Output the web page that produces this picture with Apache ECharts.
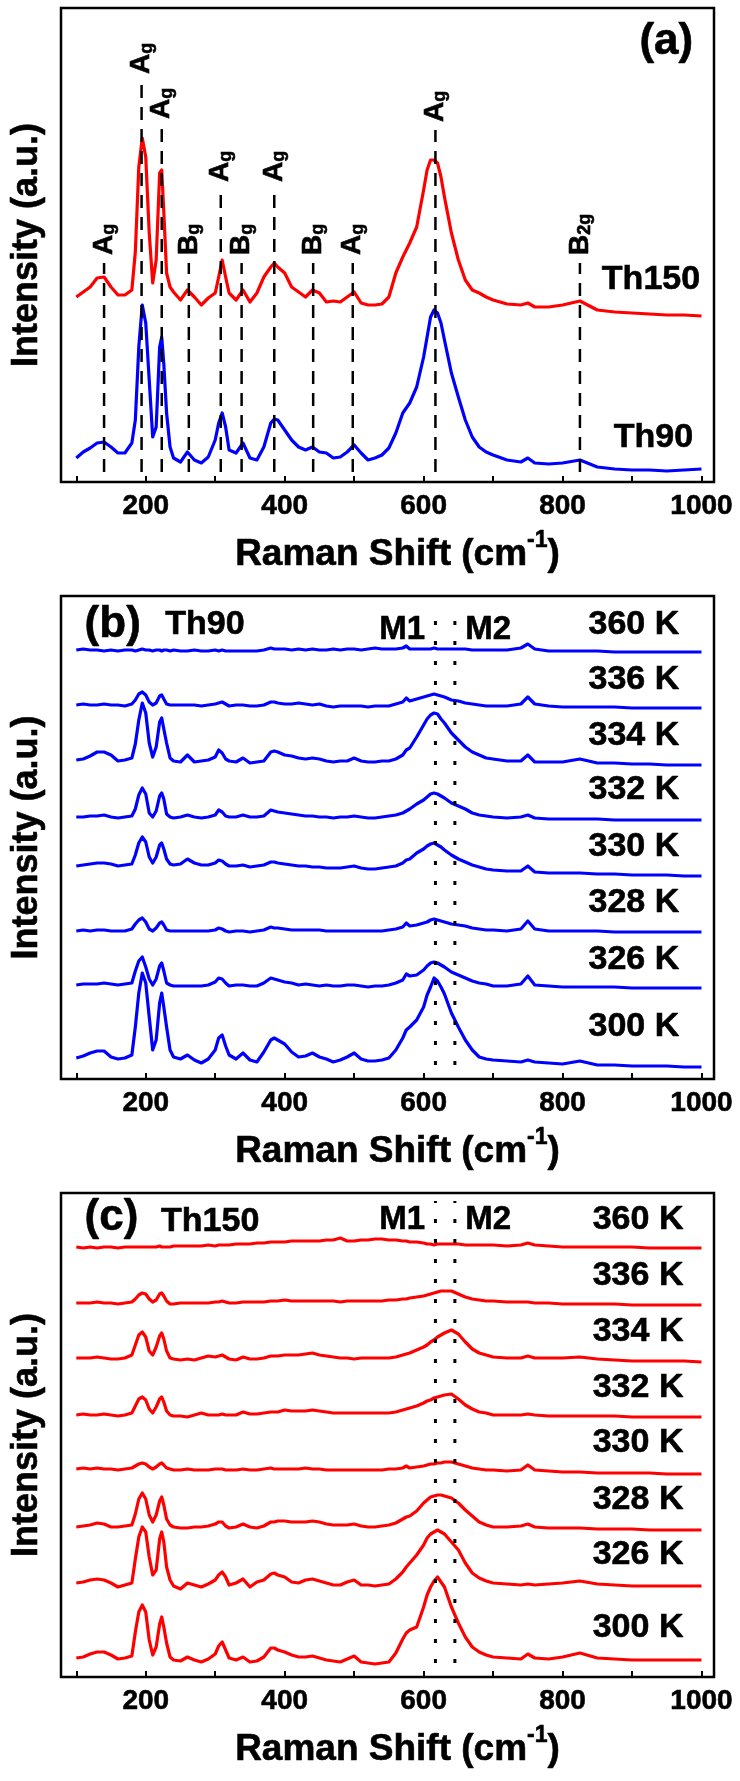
<!DOCTYPE html>
<html><head><meta charset="utf-8">
<script src="https://cdn.jsdelivr.net/npm/echarts@6/dist/echarts.min.js"></script>
<style>html,body{margin:0;padding:0;background:#fff}#c{width:740px;height:1781px}</style>
</head><body><div id="c"></div>
<script>
// Raman shift grid (cm^-1)
const shift = [100,110,120,130,140,150,160,170,180,185,
190,195,200,205,210,215,220,223,226,230,
235,240,250,260,270,280,290,300,305,310,
315,320,330,340,350,360,370,380,385,390,
400,410,420,430,440,450,460,470,480,490,
500,510,520,530,540,550,560,570,575,580,
590,600,605,610,615,620,625,630,640,650,
660,670,680,690,700,720,740,750,760,780,
800,825,850,875,900,925,950,975,1000];

// Panel (a)
const aTh90 = [24,30,34,39,40,35,29,29,39,62,
135,177,159,102,45,55,135,145,118,69,
35,24,20,30,22,19,25,42,59,69,
55,32,29,39,24,22,35,59,63,62,
52,42,35,32,35,30,29,24,25,30,
37,29,22,24,27,34,49,69,74,79,
95,125,145,165,172,169,159,142,109,85,
62,45,35,30,27,22,20,24,19,18,
19,22,15,13,12,12,11,12,13];
const aTh150 = [185,190,195,204,205,195,187,187,192,230,
315,344,325,249,199,222,309,312,270,209,
195,190,182,192,185,177,184,189,205,222,
205,189,182,192,180,189,205,215,219,215,
209,195,190,185,192,189,180,181,180,185,
190,179,177,177,178,185,209,225,232,239,
255,292,312,322,322,319,305,285,249,222,
202,192,189,185,182,178,177,179,175,175,
177,181,172,170,169,168,167,167,166];

// Panel (b) Th90 temperature series
const b360 = [429,430,429,429,428,429,428,429,429,428,
429,430,429,429,428,429,429,428,429,429,
428,429,428,428,429,428,428,429,428,429,
428,428,428,428,428,428,429,431,430,430,
430,429,430,429,430,429,429,430,429,430,
430,429,430,431,430,430,430,431,433,430,
430,430,430,430,431,430,430,430,430,430,
430,429,429,429,429,429,431,435,430,428,
428,428,428,427,427,427,427,427,427];
const b336 = [374,375,374,374,375,374,374,373,375,379,
385,387,384,377,374,376,383,384,380,375,
374,374,374,374,374,373,374,375,376,377,
375,373,374,374,373,373,374,377,377,376,
375,375,376,375,374,375,373,372,373,373,
373,373,372,373,373,373,375,377,381,378,
380,382,383,384,385,384,383,382,379,378,
376,375,374,373,373,373,375,382,375,373,
372,372,372,372,371,371,371,371,371];
const b334 = [319,320,323,327,327,324,318,319,321,335,
359,376,366,336,322,332,357,361,350,336,
321,318,317,324,317,318,319,322,329,326,
320,318,317,321,316,317,318,327,328,327,
324,323,321,320,321,320,318,317,318,318,
321,318,317,317,318,318,320,324,329,331,
342,354,360,364,366,365,360,356,346,339,
332,327,324,321,320,318,318,324,317,317,
317,320,316,316,315,315,314,314,314];
const b332 = [262,262,263,263,264,262,261,262,263,270,
284,291,285,266,262,268,283,286,280,265,
262,261,262,264,262,261,262,264,269,267,
263,262,262,264,262,262,263,269,268,267,
266,265,264,263,263,262,262,261,262,262,
263,262,261,261,262,263,264,266,268,270,
275,279,282,285,286,285,283,281,276,273,
270,266,264,263,262,261,262,264,261,260,
260,260,260,259,259,259,259,259,259];
const b330 = [213,214,215,216,216,215,213,214,215,224,
236,242,237,222,216,222,234,236,230,220,
215,214,215,220,216,214,214,216,219,218,
215,213,213,214,212,213,214,217,217,216,
215,214,213,213,212,212,211,211,211,212,
213,211,210,210,211,212,213,216,219,220,
226,230,233,235,236,234,232,229,224,220,
217,214,212,210,209,208,208,213,207,206,
206,206,205,205,204,204,204,203,203];
const b328 = [148,149,148,149,149,148,148,148,150,155,
159,161,157,150,148,151,156,157,154,149,
148,148,148,148,148,148,148,149,151,150,
148,147,148,148,147,148,149,152,151,151,
150,149,149,149,149,149,148,148,148,148,
148,148,148,148,148,149,150,152,156,153,
154,156,157,159,160,159,158,157,155,154,
153,151,150,149,149,148,150,158,150,148,
148,148,148,147,147,147,147,147,147];
const b326 = [94,95,95,95,96,95,94,95,96,108,
118,122,112,100,94,100,113,116,108,96,
94,93,93,93,93,93,94,97,101,100,
96,93,94,94,93,93,96,101,100,99,
97,96,94,95,94,93,94,93,93,94,
94,93,92,93,93,94,96,99,105,103,
104,109,113,116,117,116,114,112,107,104,
101,98,96,95,93,93,95,103,94,93,
92,92,92,92,91,91,91,91,91];
const b300 = [21,23,26,28,28,22,20,21,24,52,
86,106,96,62,29,39,76,86,72,52,
29,22,20,24,19,16,20,29,41,44,
33,24,20,26,19,17,27,39,41,39,
35,27,22,23,26,22,20,17,19,22,
26,20,18,18,19,21,29,41,49,52,
59,72,84,92,101,98,92,85,66,52,
39,29,22,20,19,18,17,19,17,16,
15,18,14,14,13,13,13,12,12];

// Panel (c) Th150 temperature series
const c360 = [430,429,430,429,430,430,429,430,430,430,
430,430,430,430,430,430,431,430,430,430,
430,431,431,431,431,431,432,431,432,432,
432,432,433,433,433,434,434,435,435,435,
435,436,436,436,436,436,437,437,439,436,
436,437,437,438,438,437,437,436,436,435,
435,434,433,433,432,433,433,433,433,433,
432,432,432,432,432,431,432,434,432,431,
430,430,430,430,430,429,429,429,429];
const c336 = [374,374,374,375,374,374,373,374,375,378,
382,384,383,378,375,377,383,384,381,376,
373,373,374,374,374,374,374,375,375,376,
375,374,374,375,375,375,375,376,376,376,
377,376,376,376,376,376,376,376,375,376,
376,376,376,376,376,377,377,378,378,379,
380,381,382,383,384,385,386,386,386,383,
380,378,377,376,376,375,375,375,374,374,
373,373,373,373,372,372,372,372,372];
const c334 = [319,319,319,320,319,318,318,319,322,332,
342,345,340,326,322,330,341,344,338,326,
319,318,317,318,317,319,321,320,321,322,
320,318,317,320,318,318,319,321,321,321,
322,322,322,323,324,322,321,320,319,319,
318,319,319,319,319,319,320,322,323,324,
327,330,332,335,337,340,342,344,347,343,
335,328,324,322,320,319,319,321,319,319,
319,320,318,317,316,316,316,316,315];
const c332 = [262,263,262,262,263,262,261,262,264,271,
278,280,277,268,264,270,278,280,275,266,
262,261,261,260,262,264,262,262,262,263,
262,262,262,265,263,263,264,265,265,265,
267,266,266,266,267,266,265,264,264,264,
264,264,264,264,264,264,265,267,268,269,
271,274,276,277,279,280,281,282,283,278,
272,268,265,264,262,262,262,263,262,261,
261,261,261,261,260,260,260,260,260];
const c330 = [208,209,208,209,208,208,207,208,209,211,
213,214,213,210,208,210,213,214,212,209,
208,207,207,208,207,207,207,208,208,208,
207,207,207,208,207,207,208,209,208,208,
208,208,208,209,208,208,207,207,207,207,
207,207,207,207,207,208,208,209,211,209,
210,211,212,213,213,214,214,215,215,213,
211,209,208,207,207,206,207,212,207,206,
205,205,204,204,204,204,203,203,203];
const c328 = [150,151,152,154,153,150,150,151,152,163,
178,184,178,162,155,162,176,180,172,158,
152,150,149,149,150,150,151,153,155,155,
151,149,150,153,150,149,151,155,155,156,
156,155,155,155,156,155,153,152,152,152,
153,151,150,150,151,152,154,158,160,161,
166,174,177,180,181,182,182,181,179,174,
167,161,155,152,150,150,151,153,150,149,
149,149,148,148,148,147,147,147,147];
const c326 = [94,95,97,98,97,94,90,92,94,118,
140,150,145,120,102,107,138,145,135,110,
97,91,88,94,92,90,93,97,102,105,
100,92,94,98,90,95,97,103,104,102,
100,95,94,97,98,96,94,92,92,95,
97,92,92,91,92,93,98,105,110,114,
122,132,139,143,145,147,145,143,135,127,
114,104,99,96,94,93,92,93,92,93,
94,96,93,92,91,91,91,91,91];
const c300 = [19,20,23,25,25,22,18,19,21,45,
65,72,65,37,22,30,53,60,50,34,
20,17,16,20,17,15,18,23,31,35,
27,19,17,20,15,16,20,29,29,27,
25,22,20,20,21,19,17,16,15,18,
21,15,14,13,14,15,24,38,44,47,
50,70,82,90,96,100,95,90,70,54,
40,30,25,22,20,19,18,23,19,18,
20,24,19,18,17,17,17,17,17];

// Annotations
const modeShift = [140,194,223,262,308,338,385,441,498,617,825];
const modeTop   = [219,400,355,219,292,219,292,219,219,352,219];
const modeName  = ['A','A','A','B','A','B','A','B','A','A','B'];
const modeSub   = ['g','g','g','g','g','g','g','g','g','g','2g'];
const mShift = [617,645];
const tempLabels = ['360 K','336 K','334 K','332 K','330 K','328 K','326 K','300 K'];
const tickValues = [100,200,300,400,500,600,700,800,900,1000];
const labelValues = [200,400,600,800,1000];

const FONT = '"Liberation Sans", Arial, Helvetica, sans-serif';
const RED = '#ff0000', BLUE = '#0000ff';
const TB = {textBorderColor:'#000', textBorderWidth:0.6};

const tops = [8, 596, 1193], heights = [474, 483, 484];
const grid = tops.map((t,i)=>({left:61, top:t, width:653, height:heights[i], show:true,
  borderColor:'#000', borderWidth:2.5, backgroundColor:'rgba(0,0,0,0)'}));

const xAxis = [0,1,2].map(i=>({type:'value', gridIndex:i, min:78, max:1018,
  axisLine:{show:false},
  axisTick:{show:true, inside:true, length:6, customValues:tickValues, lineStyle:{color:'#000', width:2}},
  axisLabel:Object.assign({show:true, customValues:labelValues, formatter:v=>String(v), fontSize:28, fontWeight:'bold', color:'#000', fontFamily:FONT, margin:10}, TB),
  splitLine:{show:false},
  name:'{t|Raman Shift (cm}{s|-1}{t|)}', nameLocation:'middle', nameGap:47,
  nameTextStyle:{padding:[0,0,0,20], rich:{
    t:Object.assign({fontSize:37, fontWeight:'bold', fontFamily:FONT, color:'#000', lineHeight:44, verticalAlign:'bottom'}, TB),
    s:Object.assign({fontSize:23, fontWeight:'bold', fontFamily:FONT, color:'#000', lineHeight:23, verticalAlign:'top'}, TB)}}
}));
const yAxis = [0,1,2].map(i=>({type:'value', gridIndex:i, min:0, max:heights[i],
  axisLine:{show:false}, axisTick:{show:false}, axisLabel:{show:false}, splitLine:{show:false},
  name:'Intensity (a.u.)', nameLocation:'middle', nameGap:16,
  nameTextStyle:Object.assign({fontSize:36, fontWeight:'bold', fontFamily:FONT, color:'#000'}, TB)}));

const series = [];
function curve(vals, color, gi){
  series.push({type:'line', xAxisIndex:gi, yAxisIndex:gi, data:shift.map((x,i)=>[x, vals[i]]),
    symbol:'none', showSymbol:false, silent:true, animation:false, z:3,
    lineStyle:{color, width:3.2, join:'round'}});
}
function vline(gi, x, y0, y1, dash, w){
  series.push({type:'line', xAxisIndex:gi, yAxisIndex:gi, data:[[x,y0],[x,y1]],
    symbol:'none', showSymbol:false, silent:true, animation:false, z:5,
    lineStyle:{color:'#000', width:w, type:dash, cap:'butt'}});
}
function texts(gi, items){
  series.push({type:'scatter', xAxisIndex:gi, yAxisIndex:gi, symbolSize:0, silent:true, animation:false, z:10,
    itemStyle:{opacity:1},
    data:items.map(it=>({value:[it.x, it.y], label:Object.assign({show:true, position:it.side==='r'?'right':'left', distance:0,
      formatter:it.text, fontSize:it.size, fontWeight:'bold', fontFamily:FONT, color:'#000', opacity:1}, TB)}))});
}

// Panel (a)
curve(aTh150, RED, 0);
curve(aTh90, BLUE, 0);
modeShift.forEach((m,i)=>vline(0, m, 10, modeTop[i], [13,9], 2.5));
series.push({type:'scatter', xAxisIndex:0, yAxisIndex:0, symbolSize:0, silent:true, animation:false, z:10,
  itemStyle:{opacity:1},
  data:modeShift.map((m,i)=>({value:[m, modeTop[i]], label:{show:true, rotate:90, position:'top', distance:8,
    align:'left', verticalAlign:'middle', opacity:1,
    formatter:'{a|'+modeName[i]+'}{s|'+modeSub[i]+'}',
    rich:{a:Object.assign({fontSize:28, fontWeight:'bold', fontFamily:FONT, color:'#000', lineHeight:28, verticalAlign:'top'}, TB),
          s:Object.assign({fontSize:18, fontWeight:'bold', fontFamily:FONT, color:'#000', lineHeight:18, padding:[20,0,0,0], verticalAlign:'bottom'}, TB)}}}))});
texts(0, [
  {x:988, y:440, text:'(a)', size:44},
  {x:998, y:202, text:'Th150', size:34},
  {x:988, y:44, text:'Th90', size:34}
]);

// Panel (b)
[b360,b336,b334,b332,b330,b328,b326,b300].forEach(v=>curve(v, BLUE, 1));
mShift.forEach(m=>vline(1, m, 14, 474, [4,16], 3));
const bLabY = [454,399,343,289,232,176,119,52];
texts(1, tempLabels.map((t,i)=>({x:968, y:bLabY[i], text:t, size:34})).concat([
  {x:112, y:454, text:'(b)', size:44, side:'r'},
  {x:228, y:454, text:'Th90', size:34, side:'r'},
  {x:602, y:449, text:'M1', size:33},
  {x:660, y:449, text:'M2', size:33, side:'r'}
]));

// Panel (c)
[c360,c336,c334,c332,c330,c328,c326,c300].forEach(v=>curve(v, RED, 2));
mShift.forEach(m=>vline(2, m, 14, 476, [4,16], 3));
const cLabY = [457,401,345,289,234,177,122,49];
texts(2, tempLabels.map((t,i)=>({x:974, y:cLabY[i], text:t, size:34})).concat([
  {x:112, y:459, text:'(c)', size:44, side:'r'},
  {x:222, y:455, text:'Th150', size:34, side:'r'},
  {x:602, y:457, text:'M1', size:33},
  {x:660, y:457, text:'M2', size:33, side:'r'}
]));

const chart = echarts.init(document.getElementById('c'), null, {renderer:'canvas'});
chart.setOption({animation:false, backgroundColor:'#fff', grid, xAxis, yAxis, series});
</script>
</body></html>
